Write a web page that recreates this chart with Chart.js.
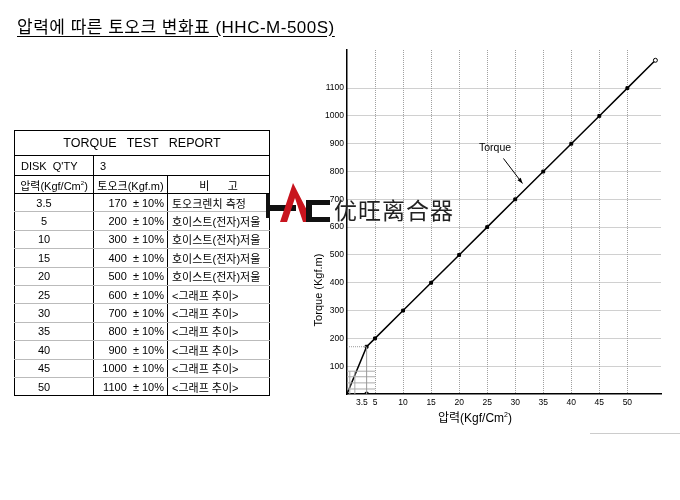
<!DOCTYPE html>
<html>
<head>
<meta charset="utf-8">
<script src="https://cdn.jsdelivr.net/npm/chart.js@4/dist/chart.umd.min.js"></script>
<style>
  html, body { margin:0; padding:0; background:#fff; }
  body { width:680px; height:500px; position:relative; overflow:hidden;
         font-family:"Liberation Sans","Noto Sans CJK KR",sans-serif; color:#000; }
  #c { position:absolute; left:0; top:0; }
  #title { position:absolute; left:17px; top:13px; font-size:17px; white-space:nowrap;
           text-decoration:underline; text-underline-offset:3px; letter-spacing:0.5px; }
  table { position:absolute; left:14px; top:130px; border-collapse:collapse;
          border:1.5px solid #000; font-size:11px; table-layout:fixed; }
  td { padding:0; white-space:pre; border-left:1px solid #000; }
  tr.hd td { border-bottom:1px solid #000; }
  tr.dr td { border-bottom:1px solid #bbb; height:17.4px; }
  tr.dr:last-child td { border-bottom:none; }
  .c1 { text-align:center; padding-right:20px; }
  .c2 { text-align:right; padding-right:3px; }
  .c3 { text-align:left; padding-left:4px; }
  #ytitle { position:absolute; left:318px; top:290px; transform:translate(-50%,-50%) rotate(-90deg);
            font-size:11px; white-space:nowrap; }
  #xtitle { position:absolute; left:475px; top:416px; transform:translate(-50%,-50%);
            font-size:12px; white-space:nowrap; }
  #logo { position:absolute; left:262px; top:180px; }
  #brand { position:absolute; left:334px; top:192px; font-size:23px; letter-spacing:1px;
           font-family:"Noto Sans CJK SC",sans-serif; color:#222; white-space:nowrap; }
  #rule { position:absolute; left:590px; top:433px; width:90px; height:1px; background:#ccc; }
</style>
</head>
<body>
<canvas id="c" width="680" height="500"></canvas>
<div id="title">압력에 따른 토오크 변화표 (HHC-M-500S)</div>
<table id="tbl"></table>
<div id="ytitle">Torque (Kgf.m)</div>
<div id="xtitle">압력(Kgf/Cm<sup style="font-size:7px">2</sup>)</div>
<svg id="logo" width="72" height="45" viewBox="0 0 72 45">
  <rect x="4" y="14" width="4" height="24" fill="#111"/>
  <rect x="4" y="25" width="30" height="6" fill="#111"/>
  <polygon points="31,3 18,42 25,42 33,18 41,42 51,42" fill="#c8141e"/>
  <path d="M44,20 L68,20 L68,25 L50,25 L50,37 L68,37 L68,42 L44,42 Z" fill="#111"/>
</svg>
<div id="brand">优旺离合器</div>
<div id="rule"></div>
<script>
// ---- chart data ----
const pressure = [0, 3.5, 5, 10, 15, 20, 25, 30, 35, 40, 45, 50, 55];
const torque   = [0, 170, 200, 300, 400, 500, 600, 700, 800, 900, 1000, 1100, 1200];
const xTickValues = [3.5, 5, 10, 15, 20, 25, 30, 35, 40, 45, 50];
const xTickLabels = ['3.5    ', '5', '10', '15', '20', '25', '30', '35', '40', '45', '50'];
const yTickValues = [100, 200, 300, 400, 500, 600, 700, 800, 900, 1000, 1100];
// guide / hatch marks near the origin
const guideX170 = [0, 3.5];
const guideY170 = [170, 170];
const guideVertX = [3.5, 3.5];
const guideVertY = [0, 170];
const hatchLevels = [82, 62, 40, 18];
const hatchX = [0, 5];
const hatchVerticals = [0.5, 1.4];
const hatchVertY = [0, 82];
const originMark = [3.5, 0];
// annotation
const labelText = 'Torque';
const labelPos = [26.4, 883];
const arrowFrom = [27.9, 847];
const arrowTo = [31.3, 757];

// ---- table data ----
const tableTitle = 'TORQUE   TEST   REPORT';
const diskLabel = "DISK  Q'TY";
const diskQty = '3';
const headPressure = '압력(Kgf/Cm<sup style="font-size:6px">2</sup>)';
const headTorque = '토오크(Kgf.m)';
const headNote = '비      고';
const tablePressure = ['3.5', '5', '10', '15', '20', '25', '30', '35', '40', '45', '50'];
const tableTorque = [170, 200, 300, 400, 500, 600, 700, 800, 900, 1000, 1100];
const tableNotes = ['토오크렌치 측정', '호이스트(전자)저울', '호이스트(전자)저울', '호이스트(전자)저울',
  '호이스트(전자)저울', '<그래프 추이>', '<그래프 추이>', '<그래프 추이>', '<그래프 추이>',
  '<그래프 추이>', '<그래프 추이>'];

// build table
(function(){
  const t = document.getElementById('tbl');
  const esc = s => s.replace(/</g,'&lt;').replace(/>/g,'&gt;');
  let h = '<colgroup><col style="width:79px"><col style="width:74px"><col style="width:102px"></colgroup>';
  h += '<tr class="hd"><td colspan="3" style="height:24px;text-align:center;font-size:12.5px">' + tableTitle + '</td></tr>';
  h += '<tr class="hd"><td style="height:19px;padding-left:6px">' + diskLabel + '</td><td colspan="2" style="padding-left:6px">' + diskQty + '</td></tr>';
  h += '<tr class="hd"><td style="height:17px;text-align:center">' + headPressure + '</td><td style="text-align:center">' + headTorque + '</td><td style="text-align:center">' + headNote + '</td></tr>';
  for (let i = 0; i < tablePressure.length; i++) {
    h += '<tr class="dr"><td class="c1">' + tablePressure[i] + '</td><td class="c2">' + tableTorque[i] + '  ± 10%</td><td class="c3">' + esc(tableNotes[i]) + '</td></tr>';
  }
  t.innerHTML = h;
})();

const pts = (xs, ys) => xs.map((x, i) => ({x: x, y: ys[i]}));

const datasets = [];
datasets.push({ data: pts(guideX170, guideY170), borderColor:'#999', borderWidth:1, borderDash:[1,1], pointRadius:0, showLine:true });
datasets.push({ data: pts(guideVertX, guideVertY), borderColor:'#999', borderWidth:1, pointRadius:0, showLine:true });
hatchLevels.forEach(v => datasets.push({ data: pts(hatchX, [v, v]), borderColor:'#aaa', borderWidth:1, pointRadius:0, showLine:true }));
hatchVerticals.forEach(v => datasets.push({ data: pts([v, v], hatchVertY), borderColor:'#aaa', borderWidth:1, pointRadius:0, showLine:true }));
datasets.push({ data: [{x: originMark[0], y: originMark[1]}], pointRadius:2, pointBackgroundColor:'#000', pointBorderColor:'#000', showLine:false });
datasets.push({
  data: pts(pressure, torque),
  borderColor:'#000', borderWidth:1.5, showLine:true,
  pointRadius: pressure.map((p, i) => i === 0 ? 0 : 2),
  pointStyle: pressure.map((p, i) => i === pressure.length - 1 ? 'circle' : 'rect'),
  pointBackgroundColor: pressure.map((p, i) => i === pressure.length - 1 ? '#fff' : '#000'),
  pointBorderColor:'#000', pointBorderWidth:1
});

const annot = {
  id:'annot',
  afterDatasetsDraw(chart) {
    const {ctx, scales:{x, y}} = chart;
    ctx.save();
    ctx.fillStyle = '#000';
    ctx.font = '10.5px "Liberation Sans", Arial, sans-serif';
    ctx.textAlign = 'center'; ctx.textBaseline = 'middle';
    ctx.fillText(labelText, x.getPixelForValue(labelPos[0]), y.getPixelForValue(labelPos[1]));
    const x1 = x.getPixelForValue(arrowFrom[0]), y1 = y.getPixelForValue(arrowFrom[1]);
    const x2 = x.getPixelForValue(arrowTo[0]), y2 = y.getPixelForValue(arrowTo[1]);
    ctx.strokeStyle = '#000'; ctx.lineWidth = 1;
    ctx.beginPath(); ctx.moveTo(x1, y1); ctx.lineTo(x2, y2); ctx.stroke();
    const a = Math.atan2(y2 - y1, x2 - x1), L = 6;
    ctx.beginPath();
    ctx.moveTo(x2, y2);
    ctx.lineTo(x2 - L * Math.cos(a - 0.35), y2 - L * Math.sin(a - 0.35));
    ctx.lineTo(x2 - L * Math.cos(a + 0.35), y2 - L * Math.sin(a + 0.35));
    ctx.closePath(); ctx.fill();
    ctx.restore();
  }
};

new Chart(document.getElementById('c'), {
  type:'scatter',
  data:{ datasets },
  plugins:[annot],
  options:{
    responsive:false, animation:false,
    layout:{ padding:{ left:300, top:50, right:19, bottom:66 } },
    plugins:{ legend:{display:false}, tooltip:{enabled:false} },
    scales:{
      x:{
        type:'linear', min:0, max:56,
        afterBuildTicks: s => { s.ticks = xTickValues.map(v => ({value:v})); },
        afterFit: s => { s.height = 40; },
        ticks:{ autoSkip:false, maxRotation:0, padding:4, color:'#000',
                font:{ size:8.5, family:'"Liberation Sans", Arial, sans-serif' },
                callback: v => xTickLabels[xTickValues.indexOf(v)] },
        grid:{ drawTicks:false, lineWidth:1,
               color: c => (c.tick && c.tick.value === 3.5) ? 'rgba(0,0,0,0)' : '#a0a0a0' },
        border:{ display:true, color:'#000', width:1.5, dash:[1,1] }
      },
      y:{
        type:'linear', min:0, max:1237,
        afterBuildTicks: s => { s.ticks = yTickValues.map(v => ({value:v})); },
        afterFit: s => { s.width = 47; },
        ticks:{ padding:3, color:'#000',
                font:{ size:8.5, family:'"Liberation Sans", Arial, sans-serif' },
                callback: v => String(v) },
        grid:{ drawTicks:false, lineWidth:1, color:'#a0a0a0' },
        border:{ display:true, color:'#000', width:1.5, dash:[1,1] }
      }
    }
  }
});
</script>
</body>
</html>
